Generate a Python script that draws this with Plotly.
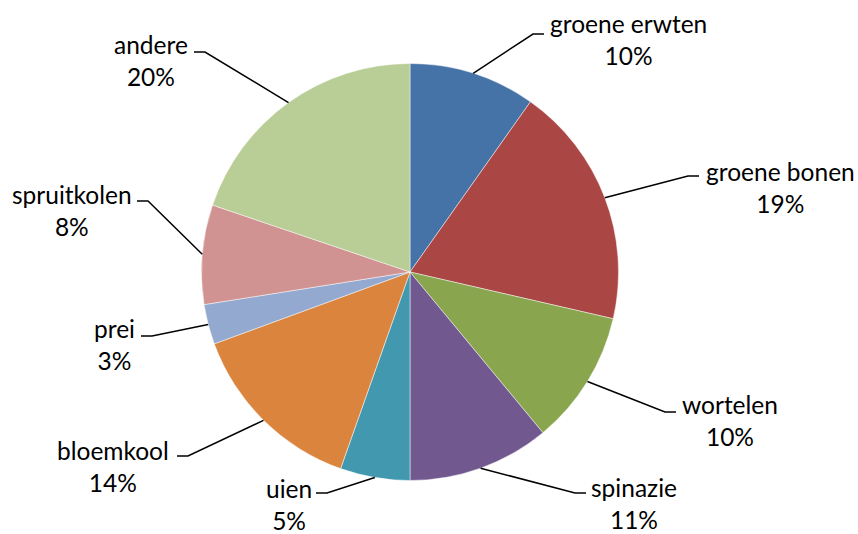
import math
import plotly.graph_objects as go

# ---- data ----
labels = ["groene erwten", "groene bonen", "wortelen", "spinazie", "uien",
          "bloemkool", "prei", "spruitkolen", "andere"]
values = [9.8, 18.8, 10.4, 11.0, 5.4, 14.0, 3.1, 7.7, 19.8]
colors = ["#4572A7", "#AA4643", "#89A54E", "#71588F", "#4198AF",
          "#DB843D", "#93A9CF", "#D19392", "#B9CD96"]

# ---- layout (pixels) ----
W, H = 858, 534
CX, CY, R = 410, 272, 208.5
# label centre and leader-line elbow per slice (pixel positions)
label_pos = [(628, 40), (780, 187), (730, 420), (634, 503), (289, 504),
             (113, 466), (114, 344), (72, 210), (151, 61)]
elbow_pos = [(533, 34), (688, 176), (665, 412), (575, 493), (327, 493),
             (188, 456), (152, 336), (148, 201), (205, 52)]
FONT = "Lato, Open Sans, sans-serif"

def px(x):
    return x / W

def py(y):
    return 1 - y / H

total = sum(values)
fig = go.Figure(go.Pie(
    labels=labels, values=values, sort=False, direction="clockwise",
    rotation=0, textinfo="none", hoverinfo="label+percent",
    marker=dict(colors=colors, line=dict(color="rgba(255,255,255,0.6)", width=0.8)),
    domain=dict(x=[px(CX - R), px(CX + R)], y=[py(CY + R), py(CY - R)]),
    showlegend=False,
))

shapes = []
annotations = []
cum = 0.0
for lab, v, (lx, ly), (ex, ey) in zip(labels, values, label_pos, elbow_pos):
    mid = (cum + v / 2) / total * 2 * math.pi
    cum += v
    sx = CX + R * math.sin(mid)
    sy = CY - R * math.cos(mid)
    hx = ex + 11 if lx > ex else ex - 11
    shapes.append(dict(
        type="path", xref="paper", yref="paper",
        path=f"M {px(sx)} {py(sy)} L {px(ex)} {py(ey)} L {px(hx)} {py(ey)}",
        line=dict(color="black", width=1.5),
    ))
    pct = round(v / total * 100)
    annotations.append(dict(
        x=px(lx), y=py(ly), xref="paper", yref="paper",
        text=f"{lab}<br>{pct}%", showarrow=False, align="center",
        xanchor="center", yanchor="middle",
        font=dict(family=FONT, size=24.5, color="black"),
    ))

fig.update_layout(
    width=W, height=H, margin=dict(l=0, r=0, t=0, b=0),
    paper_bgcolor="white", plot_bgcolor="white",
    shapes=shapes, annotations=annotations,
)
fig.write_html("out.html", config={"displayModeBar": False},
               post_script="document.body.style.margin='0';document.body.style.overflow='hidden';")
